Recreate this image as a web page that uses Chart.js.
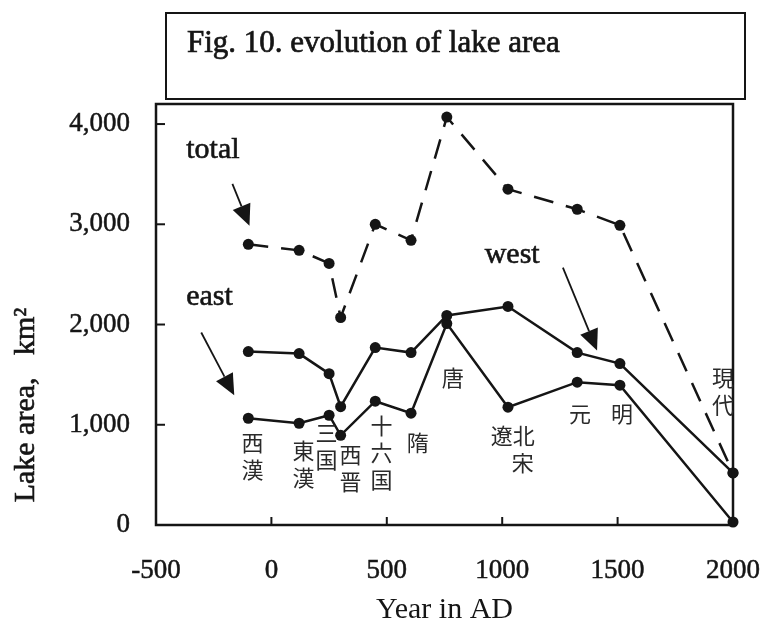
<!DOCTYPE html>
<html><head><meta charset="utf-8">
<script src="https://cdn.jsdelivr.net/npm/chart.js@4/dist/chart.umd.min.js"></script>
<style>html,body{margin:0;padding:0;background:#fff;}#wrap{width:768px;height:628px;}</style>
</head><body><div id="wrap"><canvas id="c" width="768" height="628"></canvas></div>
<script>
// ---- data ----
const years     = [-100, 120, 250, 300, 450, 605, 760, 1025, 1325, 1510, 2000];
const totalArea = [2800, 2740, 2610, 2070, 3000, 2840, 4070, 3350, 3150, 2990, 520];
const westArea  = [1730, 1710, 1510, 1180, 1770, 1720, 2090, 2180, 1720, 1610, 520];
const eastArea  = [1065, 1015, 1095, 895, 1235, 1115, 2010, 1175, 1425, 1395, 30];
const xTicks = [-500, 0, 500, 1000, 1500, 2000];
const yTicks = [0, 1000, 2000, 3000, 4000];
const titleText = 'Fig. 10. evolution of lake area';
const xTitle = 'Year in AD';
const yTitle = 'Lake area,   km\u00B2';
// dynasty names (stacked vertically), anchored in data units
const dynastyNames = ['西漢', '東漢', '三国', '西晋', '十六国', '隋', '唐', '元', '明', '現代'];
const dynastyYears = [-82, 139, 239, 343, 477, 634, 786, 1337, 1519, 1957];
const dynastyVals  = [826, 746, 925, 697, 995, 826, 1473, 1114, 1114, 1473];
// 遼北 / 宋 block
const liaoText = ['遼北', '宋'];
const liaoYear = 1046, liaoVal = 896;
// series annotations
const seriesNames = ['total', 'east', 'west'];
const seriesNameYears = [-369, -369, 924];
const seriesNameVals  = [3662, 2199, 2617];
const arrowFrom = [[-169, 3403], [-304, 1920], [1263, 2567]];
const arrowTo   = [[-95, 2985], [-161, 1294], [1411, 1741]];

const pts = arr => years.map((x, i) => ({x, y: arr[i]}));
const INK = '#151515';
const SERIF = '"Liberation Serif", "Times New Roman", serif';
const CJK = '"Noto Sans CJK JP", "Noto Sans CJK SC", sans-serif';

function boldText(ctx, t, px, py, w) {
  ctx.lineWidth = w; ctx.strokeText(t, px, py); ctx.fillText(t, px, py);
}

const decor = {
  id: 'decor',
  afterDraw(chart) {
    const {ctx, chartArea: a, scales: {x, y}} = chart;
    ctx.save();
    // title box
    ctx.strokeStyle = INK; ctx.lineWidth = 2;
    ctx.strokeRect(166, 13, 579, 86);
    ctx.fillStyle = INK;
    ctx.font = '31px ' + SERIF;
    ctx.textBaseline = 'alphabetic'; ctx.textAlign = 'left';
    boldText(ctx, titleText, 187, 52, 0.7);
    // plot frame
    ctx.lineWidth = 2.5;
    ctx.strokeRect(a.left, a.top, a.right - a.left, a.bottom - a.top);
    // inward ticks
    ctx.lineWidth = 2;
    yTicks.forEach(v => { if (v > 0) { const py = y.getPixelForValue(v); ctx.beginPath(); ctx.moveTo(a.left, py); ctx.lineTo(a.left + 9, py); ctx.stroke(); }});
    xTicks.forEach(v => { if (v > xTicks[0] && v < xTicks[xTicks.length-1]) { const px = x.getPixelForValue(v); ctx.beginPath(); ctx.moveTo(px, a.bottom); ctx.lineTo(px, a.bottom - 8); ctx.stroke(); }});
    // y title
    ctx.save();
    ctx.translate(26, 405); ctx.rotate(-Math.PI / 2);
    ctx.textAlign = 'center'; ctx.textBaseline = 'middle';
    ctx.font = '30px ' + SERIF;
    boldText(ctx, yTitle, 0, 0, 0.6);
    ctx.restore();
    // series names
    ctx.font = '30px ' + SERIF; ctx.textAlign = 'left'; ctx.textBaseline = 'alphabetic';
    seriesNames.forEach((t, i) => boldText(ctx, t, x.getPixelForValue(seriesNameYears[i]), y.getPixelForValue(seriesNameVals[i]), 0.6));
    // arrows
    arrowFrom.forEach((f, i) => {
      const x0 = x.getPixelForValue(f[0]), y0 = y.getPixelForValue(f[1]);
      const x1 = x.getPixelForValue(arrowTo[i][0]), y1 = y.getPixelForValue(arrowTo[i][1]);
      const ang = Math.atan2(y1 - y0, x1 - x0), hl = 21, hw = 9.5;
      const bx = x1 - hl * Math.cos(ang), by = y1 - hl * Math.sin(ang);
      ctx.lineWidth = 1.8;
      ctx.beginPath(); ctx.moveTo(x0, y0); ctx.lineTo(bx, by); ctx.stroke();
      ctx.beginPath(); ctx.moveTo(x1, y1);
      ctx.lineTo(bx + hw * Math.sin(ang), by - hw * Math.cos(ang));
      ctx.lineTo(bx - hw * Math.sin(ang), by + hw * Math.cos(ang));
      ctx.closePath(); ctx.fill();
    });
    // dynasty labels
    ctx.fillStyle = '#2a2a2a';
    ctx.font = '22px ' + CJK; ctx.textAlign = 'center'; ctx.textBaseline = 'middle';
    dynastyNames.forEach((t, i) => {
      const px = x.getPixelForValue(dynastyYears[i]), py = y.getPixelForValue(dynastyVals[i]);
      [...t].forEach((ch, k) => ctx.fillText(ch, px, py + k * 27));
    });
    const lx = x.getPixelForValue(liaoYear), ly = y.getPixelForValue(liaoVal);
    ctx.fillText(liaoText[0], lx, ly);
    ctx.fillText(liaoText[1], lx + 10, ly + 27);
    ctx.restore();
  }
};

const lineDs = (label, arr, dash) => ({
  label, data: pts(arr), borderColor: INK, backgroundColor: INK,
  pointBackgroundColor: INK, pointBorderColor: INK, pointRadius: 5.5, pointBorderWidth: 0,
  borderWidth: 2.5, borderDash: dash, tension: 0, clip: false
});

new Chart(document.getElementById('c'), {
  type: 'line',
  data: { datasets: [
    lineDs('total', totalArea, [20, 13]),
    lineDs('west', westArea, []),
    lineDs('east', eastArea, [])
  ]},
  options: {
    responsive: false, animation: false, devicePixelRatio: 1,
    layout: { padding: { top: 104, right: 35, left: 0, bottom: 0 } },
    plugins: { legend: { display: false }, tooltip: { enabled: false }, title: { display: false } },
    scales: {
      x: {
        type: 'linear', min: -500, max: 2000,
        afterBuildTicks: s => { s.ticks = xTicks.map(v => ({value: v})); },
        afterFit: s => { s.height = 103; s.paddingLeft = 0; s.paddingRight = 0; },
        grid: { display: false, drawTicks: false }, border: { display: false },
        ticks: { color: INK, font: { family: SERIF, size: 27 }, padding: 30, maxRotation: 0, autoSkip: false,
                 textStrokeColor: INK, textStrokeWidth: 0.5, callback: v => String(v) },
        title: { display: true, text: xTitle, color: INK, font: { family: SERIF, size: 30 }, padding: { top: 0, bottom: 0 } }
      },
      y: {
        min: 0, max: 4200,
        afterBuildTicks: s => { s.ticks = yTicks.map(v => ({value: v})); },
        afterFit: s => { s.width = 156; s.paddingTop = 0; s.paddingBottom = 0; },
        grid: { display: false, drawTicks: false }, border: { display: false },
        ticks: { color: INK, font: { family: SERIF, size: 27 }, padding: 26, autoSkip: false,
                 textStrokeColor: INK, textStrokeWidth: 0.5, callback: v => v.toLocaleString('en-US') }
      }
    }
  },
  plugins: [decor]
});
</script></body></html>
